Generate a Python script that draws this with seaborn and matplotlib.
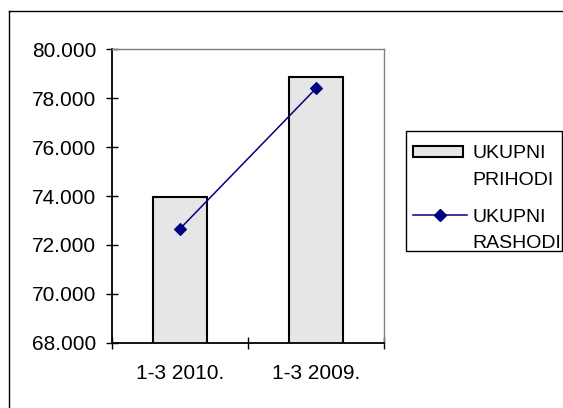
import matplotlib
matplotlib.use("Agg")
import matplotlib.pyplot as plt
import seaborn as sns
import numpy as np
from matplotlib.patches import Rectangle
from matplotlib.lines import Line2D
from matplotlib.ticker import FuncFormatter, FixedLocator

categories = ["1-3 2010.", "1-3 2009."]
prihodi = [73970, 78880]
rashodi = [72660, 78400]
series_labels = ["UKUPNI\nPRIHODI", "UKUPNI\nRASHODI"]
y_ticks = [68000, 70000, 72000, 74000, 76000, 78000, 80000]

plt.rcParams['font.family'] = ['Liberation Sans', 'DejaVu Sans']
plt.rcParams['text.color'] = 'black'
plt.rcParams['xtick.color'] = 'black'
plt.rcParams['ytick.color'] = 'black'

W, H = 563, 408
def fx(x):
    return x / W
def fy(y):
    return 1 - y / H

BAR_FILL = "#E6E6E6"
LINE_COL = "#000080"

fig = plt.figure(figsize=(W / 100, H / 100), dpi=100)
fig.patch.set_facecolor('white')
ax = fig.add_axes([fx(112), fy(342.7), (384 - 112) / W, (342.7 - 49.3) / H])
ax.set_facecolor('white')

sns.barplot(x=categories, y=prihodi, ax=ax, color=BAR_FILL, width=0.4,
            edgecolor="black", linewidth=1.5, saturation=1)
sns.pointplot(x=categories, y=rashodi, ax=ax, color=LINE_COL, markers="D",
              markersize=5.8, linewidth=1.1)

ax.set_ylim(y_ticks[0], y_ticks[-1])
ax.set_xlim(-0.5, 1.5)
ax.set_yticks(y_ticks)
ax.yaxis.set_major_formatter(FuncFormatter(lambda v, p: f"{v/1000:.3f}"))
ax.tick_params(axis='y', direction='inout', length=8.6, width=1, color='black',
               labelsize=15, pad=7.0, left=True)
ax.set_xticks([0, 1])
ax.set_xticklabels(categories)
ax.xaxis.set_minor_locator(FixedLocator([-0.5, 0.5, 1.5]))
ax.tick_params(axis='x', which='major', length=0, labelsize=15, pad=15)
ax.tick_params(axis='x', which='minor', direction='inout', length=8.6, width=1,
               color='black', bottom=True)
for s in ['left', 'bottom']:
    ax.spines[s].set_color('black')
    ax.spines[s].set_linewidth(1.3)
for s in ['top', 'right']:
    ax.spines[s].set_color('#808080')
    ax.spines[s].set_linewidth(1.0)
ax.set_xlabel("")
ax.set_ylabel("")

# legend (drawn manually to match the layout)
fig.patches.append(Rectangle((fx(405.5), fy(250.5)), (561.5 - 405.5) / W, (250.5 - 131) / H,
                             transform=fig.transFigure, facecolor='white',
                             edgecolor='black', linewidth=1))
fig.patches.append(Rectangle((fx(412.5), fy(157)), (463 - 412.5) / W, (157 - 145.5) / H,
                             transform=fig.transFigure, facecolor=BAR_FILL,
                             edgecolor='black', linewidth=1.5))
fig.lines.append(Line2D([fx(413), fx(467)], [fy(215), fy(215)], transform=fig.transFigure,
                        color=LINE_COL, linewidth=1.1))
fig.lines.append(Line2D([fx(440)], [fy(215)], transform=fig.transFigure,
                        color=LINE_COL, marker='D', markersize=5.8, linestyle='None'))
baselines = [[158, 185], [222, 248]]
for lab, bls in zip(series_labels, baselines):
    for line, b in zip(lab.split("\n"), bls):
        fig.text(fx(472), fy(b), line, fontsize=14, ha='left', va='baseline',
                 color='black')

# chart area border (left and top edges visible)
fig.lines.append(Line2D([fx(8.5), fx(8.5)], [fy(10.5), 0], transform=fig.transFigure,
                        color='black', linewidth=1))
fig.lines.append(Line2D([fx(8.5), 1], [fy(10.5), fy(10.5)], transform=fig.transFigure,
                        color='black', linewidth=1))

fig.savefig("out.png", dpi=100, facecolor='white')
